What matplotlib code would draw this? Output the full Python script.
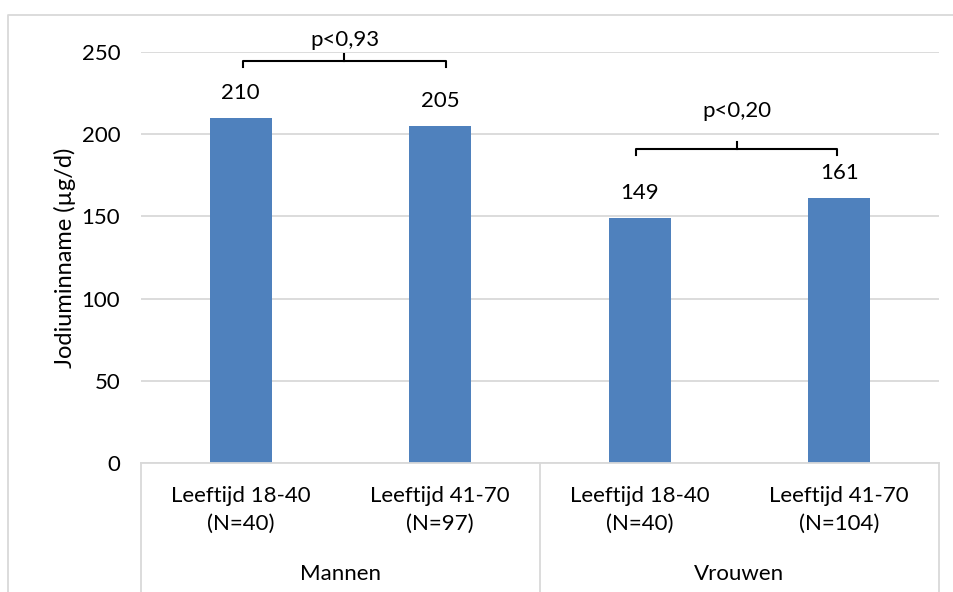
import matplotlib
matplotlib.use("Agg")
import matplotlib.pyplot as plt
from matplotlib.lines import Line2D
from matplotlib.transforms import blended_transform_factory

plt.rcParams['font.family'] = ['Lato', 'DejaVu Sans']

# data
leeftijd = ["Leeftijd 18-40\n(N=40)", "Leeftijd 41-70\n(N=97)",
            "Leeftijd 18-40\n(N=40)", "Leeftijd 41-70\n(N=104)"]
groepen = ["Mannen", "Vrouwen"]
jodium = [210, 205, 149, 161]
p_waarden = ["p<0,93", "p<0,20"]
bracket_hoogte = [244.5, 191]
tekst_hoogte = [257, 214]

blue = "#4F81BD"
grid = "#D9D9D9"
fs = 16

fig = plt.figure(figsize=(9.54, 5.92), dpi=100)
ax = fig.add_axes([141/954, 1-463/592, 798/954, 411/592])

x = range(len(jodium))
ax.bar(x, jodium, width=0.31, color=blue, zorder=2)
ax.set_xlim(-0.5, len(jodium)-0.5)
ax.set_ylim(0, 250)
ax.set_yticks(range(0, 251, 50))
ax.tick_params(axis='y', length=0, pad=15, labelsize=fs)
ax.set_xticks([])
ax.yaxis.grid(True, color=grid, linewidth=1.3)
ax.set_axisbelow(True)
for s in ["top", "right", "left"]:
    ax.spines[s].set_visible(False)
ax.spines["bottom"].set_color(grid)
ax.spines["bottom"].set_linewidth(1.3)
ax.set_ylabel("Jodiuminname (µg/d)", fontsize=17, labelpad=4)

# bar labels
for i, v in enumerate(jodium):
    ax.annotate(str(v), (i, v), xytext=(0, 18), textcoords="offset points",
                ha="center", va="center", fontsize=fs)

# category axis (two levels)
tr = blended_transform_factory(ax.transData, fig.transFigure)
for i, lab in enumerate(leeftijd):
    ax.text(i, 1-510/592, lab, transform=tr, ha="center", va="center",
            fontsize=fs, linespacing=1.5)
for j, g in enumerate(groepen):
    ax.text(2*j+0.5, 1-574/592, g, transform=tr, ha="center", va="center",
            fontsize=fs)
for xs in [-0.5, 1.5, 3.5]:
    fig.add_artist(Line2D([xs, xs], [1-463/592, 0], transform=tr,
                          color=grid, linewidth=1.3))

# significance brackets
spans = [(0.01, 1.03), (1.98, 2.99)]
for (x0, x1), p, h, th in zip(spans, p_waarden, bracket_hoogte, tekst_hoogte):
    xm = (x0 + x1) / 2
    ax.plot([x0, x0, x1, x1], [h-3.5, h, h, h-3.5], color="black",
            linewidth=1.5, clip_on=False, zorder=3)
    ax.plot([xm, xm], [h, h+4.5], color="black", linewidth=1.5,
            clip_on=False, zorder=3)
    ax.text(xm, th, p, ha="center", va="center", fontsize=fs)

# chart border
fig.add_artist(Line2D([8/954, 8/954, 1], [0, 1-15/592, 1-15/592],
                      transform=fig.transFigure, color=grid, linewidth=1.3))

fig.savefig("out.png", dpi=100)
